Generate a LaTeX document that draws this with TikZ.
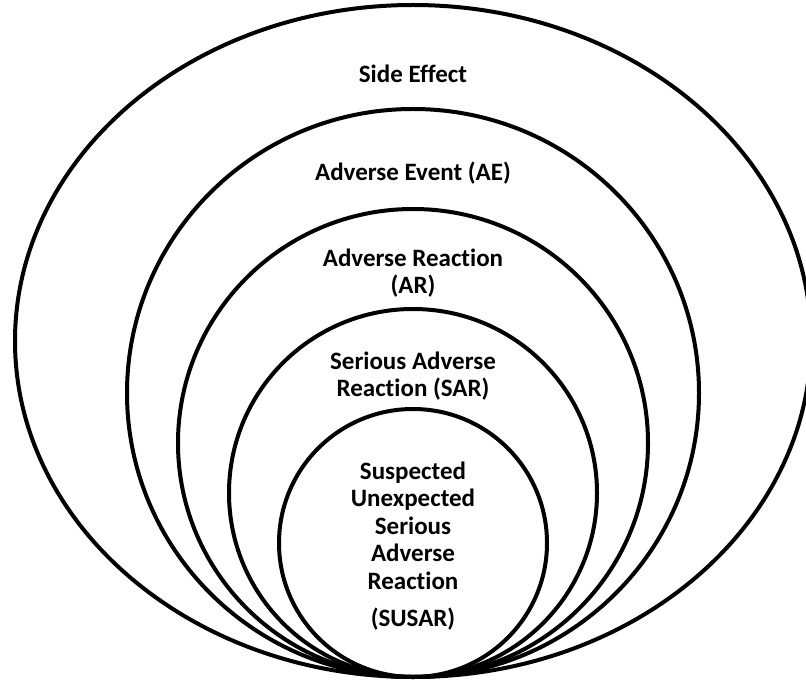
\documentclass[tikz,border=0pt]{standalone}
\usepackage{fontspec}
\setmainfont{Carlito}[Ligatures=NoCommon]
\usetikzlibrary{shapes.geometric, positioning}
\tikzset{
	x=1pt, y=1pt, % one unit is one pixel of the drawing
	ring/.style={draw, ellipse, line width=4pt, inner sep=0pt, anchor=south}, % the nested ellipses, all touching at the bottom
	tag/.style={font=\fontsize{25}{27.5}\selectfont\bfseries, align=center}, % sets the look of every label
}

\begin{document}
\begin{tikzpicture}
	\useasboundingbox (0,0) rectangle (806,681);
	\coordinate (base) at (413,2);
			\node[ring, minimum width=796pt, minimum height=672pt] at (base) (side) {};
			\node[ring, minimum width=572pt, minimum height=568pt] at (base) (ae) {};
			\node[ring, minimum width=470pt, minimum height=468pt] at (base) (ar) {};
			\node[ring, minimum width=368pt, minimum height=368pt] at (base) (sar) {};
			\node[ring, minimum width=268pt, minimum height=268pt] at (base) (susar) {};
	% labels
			\node[tag] at (413,607) (side text) {Side Effect};
			\node[tag] at (413,508) (ae text) {Adverse Event (AE)};
			\node[tag] at (413,408) (ar text) {Adverse Reaction\\(AR)};
			\node[tag] at (413,305) (sar text) {Serious Adverse\\Reaction (SAR)};
			\node[tag] at (413,135) (susar text) {Suspected\\Unexpected\\Serious\\Adverse\\Reaction\\[10pt](SUSAR)};
\end{tikzpicture}
\end{document}
